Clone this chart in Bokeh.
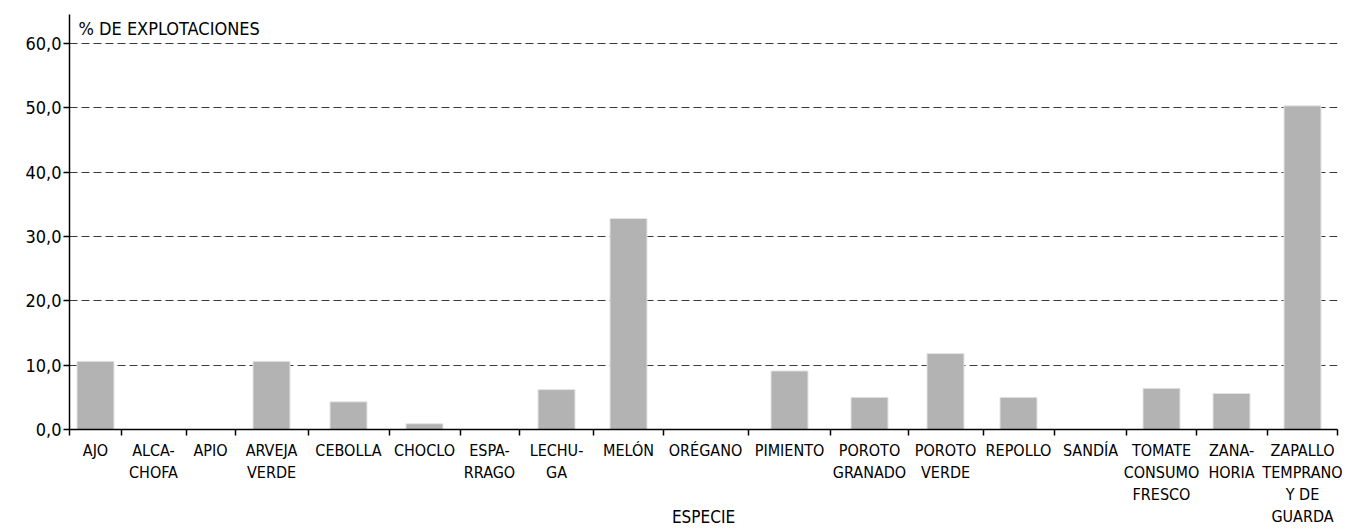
from bokeh.plotting import figure
from bokeh.models import Range1d, FixedTicker, Label
from bokeh.embed import file_html
from bokeh.resources import INLINE

# ---- data ----
categories = ["AJO", "ALCA-\nCHOFA", "APIO", "ARVEJA\nVERDE", "CEBOLLA", "CHOCLO",
              "ESPA-\nRRAGO", "LECHU-\nGA", "MELÓN", "ORÉGANO", "PIMIENTO",
              "POROTO\nGRANADO", "POROTO\nVERDE", "REPOLLO", "SANDÍA",
              "TOMATE\nCONSUMO\nFRESCO", "ZANA-\nHORIA", "ZAPALLO\nTEMPRANO\nY DE\nGUARDA"]
values = [10.6, 0.0, 0.0, 10.6, 4.3, 0.9, 0.0, 6.2, 32.8, 0.0, 9.1, 5.0, 11.8, 5.0, 0.0, 6.4, 5.6, 50.3]
y_ticks = [0, 10, 20, 30, 40, 50, 60]

# ---- layout (category slot boundaries, in axis units) ----
edges = [69, 121, 186, 235, 308, 389, 460, 519, 593, 663, 748, 830, 908, 983,
         1054, 1126, 1196, 1267, 1337]
centers = [(a + b) // 2 for a, b in zip(edges[:-1], edges[1:])]

FONT = "DejaVu Sans Condensed"

p = figure(width=1351, height=530, x_range=Range1d(edges[0], edges[-1]),
           y_range=Range1d(0, 64.5), output_backend="svg", toolbar_location=None,
           min_border_left=69, min_border_right=14, min_border_top=14,
           min_border_bottom=101)
p.outline_line_color = None
p.background_fill_color = "white"
p.border_fill_color = "white"

p.vbar(x=centers, top=values, width=37, fill_color="#b3b3b3",
       line_color="#e4e4e4", line_width=1)

# y axis
ya = p.yaxis[0]
ya.ticker = FixedTicker(ticks=y_ticks)
ya.major_label_overrides = {t: f"{t:.1f}".replace(".", ",") for t in y_ticks}
ya.major_label_text_font = FONT
ya.major_label_text_font_size = "18px"
ya.major_label_text_color = "black"
ya.major_tick_out = 6
ya.major_tick_in = 0
ya.minor_tick_line_color = None
ya.axis_line_color = "black"
ya.axis_line_width = 1.5
ya.major_tick_line_width = 1.5
ya.major_label_standoff = 2

# x axis: labels at slot centres, tick marks (minor) at slot boundaries
xa = p.xaxis[0]
xa.ticker = FixedTicker(ticks=centers, minor_ticks=edges)
xa.major_label_overrides = {c: t for c, t in zip(centers, categories)}
xa.major_label_text_font = FONT
xa.major_label_text_font_size = "16px"
xa.major_label_text_color = "black"
xa.major_label_text_line_height = 1.17
xa.major_label_standoff = 5
xa.major_tick_line_color = None
xa.major_tick_out = 0
xa.major_tick_in = 0
xa.minor_tick_line_color = "black"
xa.minor_tick_line_width = 1.5
xa.minor_tick_out = 6
xa.minor_tick_in = 0
xa.axis_line_color = "black"
xa.axis_line_width = 1.5
xa.axis_label = "ESPECIE"
xa.axis_label_text_font = FONT
xa.axis_label_text_font_size = "17px"
xa.axis_label_text_font_style = "normal"
xa.axis_label_text_color = "black"
xa.axis_label_standoff = -22

# grid
p.xgrid.grid_line_color = None
p.ygrid.ticker = FixedTicker(ticks=y_ticks[1:])
p.ygrid.grid_line_color = "#3a3a3a"
p.ygrid.grid_line_dash = "8 4"
p.ygrid.grid_line_width = 1

p.add_layout(Label(x=78, y=62.4, text="% DE EXPLOTACIONES", text_font=FONT,
                   text_font_size="18px", text_color="black",
                   text_baseline="alphabetic"))

open("out.html", "w").write(file_html(p, INLINE))
